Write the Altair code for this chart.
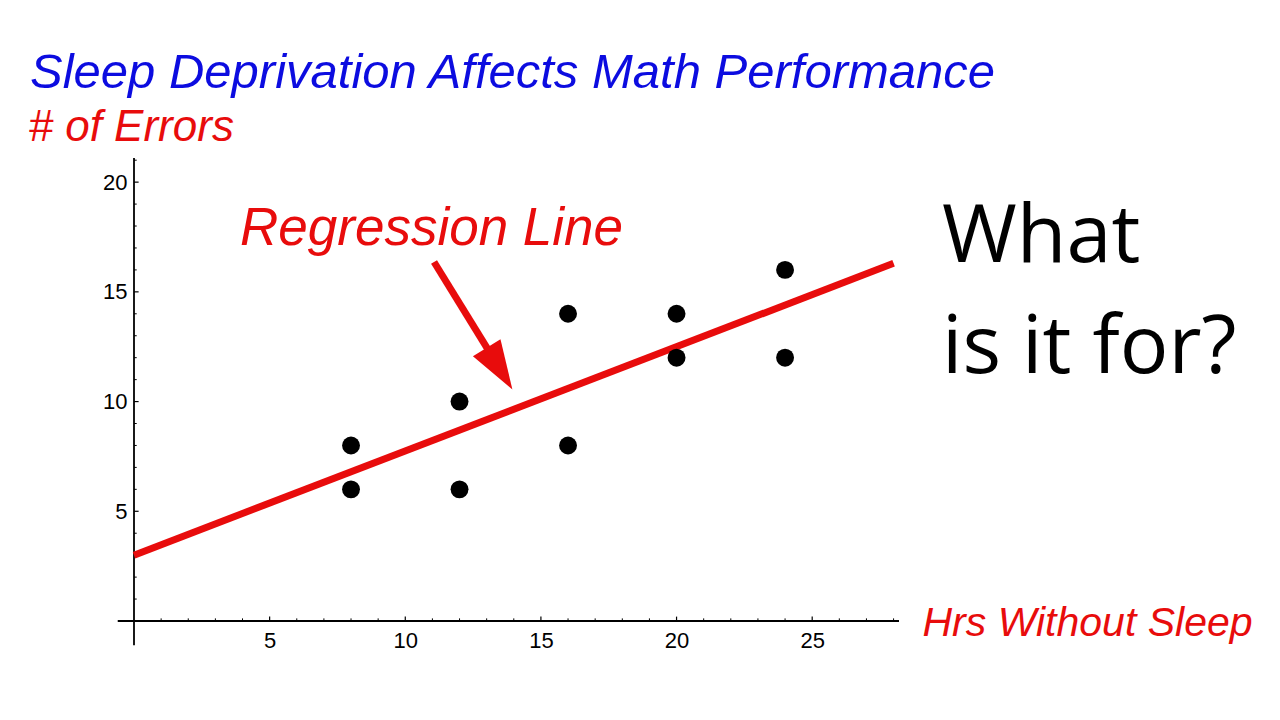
import altair as alt
import pandas as pd

# ---- data ----
hours = [8, 8, 12, 12, 16, 16, 20, 20, 24, 24]
errors = [8, 6, 10, 6, 14, 8, 14, 12, 16, 12]

reg_x = [0, 28]
reg_y = [3.0, 16.3]

x_major_ticks = [5, 10, 15, 20, 25]
x_minor_ticks = [1, 2, 3, 4, 6, 7, 8, 9, 11, 12, 13, 14, 16, 17, 18, 19, 21, 22, 23, 24, 26, 27, 28]
y_major_ticks = [5, 10, 15, 20]
y_minor_ticks = [1, 2, 3, 4, 6, 7, 8, 9, 11, 12, 13, 14, 16, 17, 18, 19, 21]

x_domain = [0, 28.2]
y_domain = [0, 21.1]
x_axis_extent = [-0.6, 28.2]
y_axis_extent = [-1.1, 21.1]

title_text = "Sleep Deprivation Affects Math Performance"
y_title = "# of Errors"
x_title = "Hrs Without Sleep"
annot_text = "Regression Line"
side_text = "What\nis it for?"

# annotation anchor points (data coordinates)
annot_pos = (3.91, 17.14)
arrow_start = (11.06, 16.36)
arrow_shaft_end = (13.17, 12.13)
arrow_head = (13.475, 11.506)

RED = "#e80c0c"
BLUE = "#0c0ce0"
FONT = "Liberation Sans"

xscale = alt.Scale(domain=x_domain, nice=False, zero=False)
yscale = alt.Scale(domain=y_domain, nice=False, zero=False)

xaxis = alt.Axis(values=x_major_ticks, domain=False, ticks=False, tickSize=0, grid=False,
                 labelFont=FONT, labelFontSize=22, labelColor="black", labelPadding=9,
                 title=x_title, titleFont=FONT, titleFontSize=41, titleFontStyle="italic",
                 titleFontWeight="normal", titleColor=RED, titleAngle=0, titleAlign="left",
                 titleBaseline="alphabetic", titleX=788, titleY=14)
yaxis = alt.Axis(values=y_major_ticks, domain=False, ticks=False, tickSize=0, grid=False,
                 labelFont=FONT, labelFontSize=22, labelColor="black", labelPadding=7,
                 title=y_title, titleFont=FONT, titleFontSize=44, titleFontStyle="italic",
                 titleFontWeight="normal", titleColor=RED, titleAngle=0, titleAlign="left",
                 titleBaseline="alphabetic", titleX=-106, titleY=-18)


def X(field=None, datum=None):
    if datum is not None:
        return alt.X(datum=datum, type="quantitative", scale=xscale, axis=xaxis)
    return alt.X(field, type="quantitative", scale=xscale, axis=xaxis)


def Y(field=None, datum=None):
    if datum is not None:
        return alt.Y(datum=datum, type="quantitative", scale=yscale, axis=yaxis)
    return alt.Y(field, type="quantitative", scale=yscale, axis=yaxis)


pts = pd.DataFrame({"hours": hours, "errors": errors})
reg = pd.DataFrame({"x": reg_x, "y": reg_y})

# axis lines crossing at the origin
x_line = alt.Chart(pd.DataFrame({"a": [x_axis_extent[0]], "b": [x_axis_extent[1]]})).mark_rule(
    color="black", strokeWidth=1.8).encode(x=X("a"), x2="b", y=Y(datum=0))
y_line = alt.Chart(pd.DataFrame({"a": [y_axis_extent[0]], "b": [y_axis_extent[1]]})).mark_rule(
    color="black", strokeWidth=1.8).encode(y=Y("a"), y2="b", x=X(datum=0))

# inward ticks
xt_major = alt.Chart(pd.DataFrame({"t": x_major_ticks})).mark_rule(color="black", strokeWidth=1.2).encode(
    x=X("t"), y=Y(datum=0), y2=alt.Y2(datum=0.2))
xt_minor = alt.Chart(pd.DataFrame({"t": x_minor_ticks})).mark_rule(color="black", strokeWidth=1).encode(
    x=X("t"), y=Y(datum=0), y2=alt.Y2(datum=0.12))
yt_major = alt.Chart(pd.DataFrame({"t": y_major_ticks})).mark_rule(color="black", strokeWidth=1.2).encode(
    y=Y("t"), x=X(datum=0), x2=alt.X2(datum=0.17))
yt_minor = alt.Chart(pd.DataFrame({"t": y_minor_ticks})).mark_rule(color="black", strokeWidth=1).encode(
    y=Y("t"), x=X(datum=0), x2=alt.X2(datum=0.1))

line = alt.Chart(reg).mark_line(color=RED, strokeWidth=7, strokeCap="butt").encode(
    x=X("x"), y=Y("y"))

points = alt.Chart(pts).mark_circle(size=320, color="black", opacity=1).encode(
    x=X("hours"), y=Y("errors"))

annot = alt.Chart(pd.DataFrame({"x": [annot_pos[0]], "y": [annot_pos[1]], "t": [annot_text]})).mark_text(
    font=FONT, fontSize=53, fontStyle="italic", color=RED, align="left", baseline="alphabetic").encode(
    x=X("x"), y=Y("y"), text="t:N")

shaft = alt.Chart(pd.DataFrame({"x": [arrow_start[0]], "y": [arrow_start[1]],
                                "x2": [arrow_shaft_end[0]], "y2": [arrow_shaft_end[1]]})).mark_rule(
    color=RED, strokeWidth=7).encode(x=X("x"), y=Y("y"), x2="x2", y2="y2")

head = alt.Chart(pd.DataFrame({"x": [arrow_head[0]], "y": [arrow_head[1]]})).mark_point(
    shape="M0,-1L0.66,1L-0.66,1Z", size=2400, angle=148.4, filled=True, color=RED,
    opacity=1, strokeWidth=0).encode(x=X("x"), y=Y("y"))

title = alt.Chart(pd.DataFrame({"t": [title_text]})).mark_text(
    font=FONT, fontSize=49, fontStyle="italic", color=BLUE, align="left", baseline="alphabetic").encode(
    x=alt.value(-104), y=alt.value(-70), text="t:N")

side = alt.Chart(pd.DataFrame({"t": [side_text]})).mark_text(
    font="Open Sans", fontSize=81, color="black", align="left", baseline="alphabetic",
    lineBreak="\n", lineHeight=111).encode(
    x=alt.value(808), y=alt.value(104), text="t:N")

chart = alt.layer(
    x_line, y_line, xt_major, xt_minor, yt_major, yt_minor,
    line, points, shaft, head, annot, title, side
).properties(
    width=765, height=463,
    padding={"left": 126, "top": 150, "right": 373, "bottom": 90},
    autosize=alt.AutoSizeParams(type="none"),
    background="white",
).configure_view(stroke="transparent")

chart.save("out.html", embed_options={"renderer": "svg", "actions": False})
